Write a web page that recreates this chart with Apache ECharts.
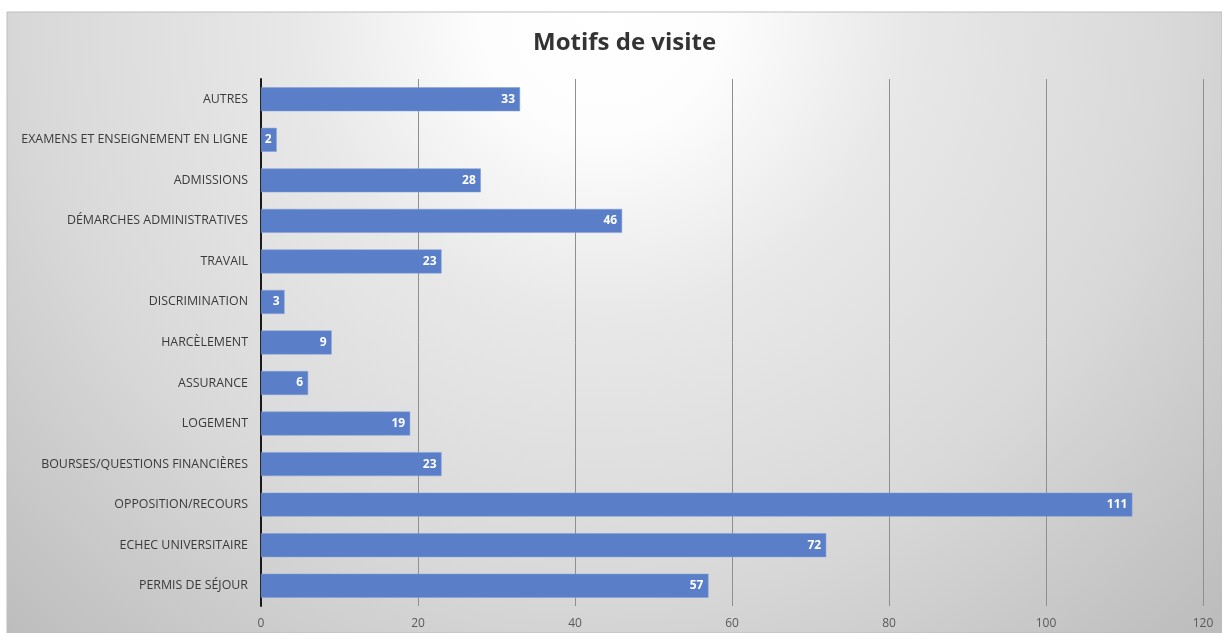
<!DOCTYPE html>
<html>
<head>
<meta charset="utf-8">
<script src="https://cdn.jsdelivr.net/npm/echarts@6/dist/echarts.min.js"></script>
<style>
html,body{margin:0;padding:0;background:#fff;}
#c{width:1222px;height:633px;}
</style>
</head>
<body>
<div id="c"></div>
<script>
const categories = [
  'PERMIS DE SÉJOUR',
  'ECHEC UNIVERSITAIRE',
  'OPPOSITION/RECOURS',
  'BOURSES/QUESTIONS FINANCIÈRES',
  'LOGEMENT',
  'ASSURANCE',
  'HARCÈLEMENT',
  'DISCRIMINATION',
  'TRAVAIL',
  'DÉMARCHES ADMINISTRATIVES',
  'ADMISSIONS',
  'EXAMENS ET ENSEIGNEMENT EN LIGNE',
  'AUTRES'
];
const values = [57, 72, 111, 23, 19, 6, 9, 3, 23, 46, 28, 2, 33];
const titleText = 'Motifs de visite';

const chart = echarts.init(document.getElementById('c'), null, {renderer: 'canvas'});
const font = "'Open Sans', sans-serif";
chart.setOption({
  animation: false,
  graphic: [
    {
      type: 'rect',
      z: -10,
      shape: {x: 7, y: 12, width: 1215, height: 621},
      style: {
        fill: new echarts.graphic.RadialGradient(0.49, 0.0, 1.4, [
          {offset: 0, color: '#ffffff'},
          {offset: 0.14, color: '#fdfdfd'},
          {offset: 0.35, color: '#e8e8e8'},
          {offset: 0.65, color: '#d9d9d9'},
          {offset: 1, color: '#bcbcbc'}
        ]),
        stroke: '#bdbdbd',
        lineWidth: 1
      }
    }
  ],
  title: {
    text: titleText,
    left: 528,
    top: 26,
    textStyle: {
      fontFamily: "'Open Sans', sans-serif",
      fontSize: 24,
      fontWeight: 'bold',
      color: '#333333'
    }
  },
  grid: {left: 261, right: 19, top: 79, bottom: 27, containLabel: false},
  xAxis: {
    type: 'value',
    min: 0,
    max: 120,
    interval: 20,
    axisLine: {show: false},
    axisTick: {show: false},
    splitLine: {show: true, lineStyle: {color: '#8f8f8f', width: 1}},
    axisLabel: {
      color: '#595959',
      fontSize: 12,
      fontFamily: font,
      margin: 12
    }
  },
  yAxis: {
    type: 'category',
    data: categories,
    axisLine: {show: true, lineStyle: {color: '#1a1a1a', width: 2}},
    axisTick: {show: false},
    splitLine: {show: false},
    axisLabel: {
      color: '#3a3a3a',
      fontSize: 12.4,
      fontFamily: font,
      margin: 13
    }
  },
  series: [{
    type: 'bar',
    data: values,
    barCategoryGap: '41%',
    itemStyle: {color: '#5a7fc8', borderColor: '#7f9fd8', borderWidth: 0.5},
    label: {
      show: true,
      position: 'insideRight',
      distance: 5,
      color: '#ffffff',
      fontWeight: 'bold',
      fontSize: 12,
      fontFamily: font
    }
  }]
});
</script>
</body>
</html>
